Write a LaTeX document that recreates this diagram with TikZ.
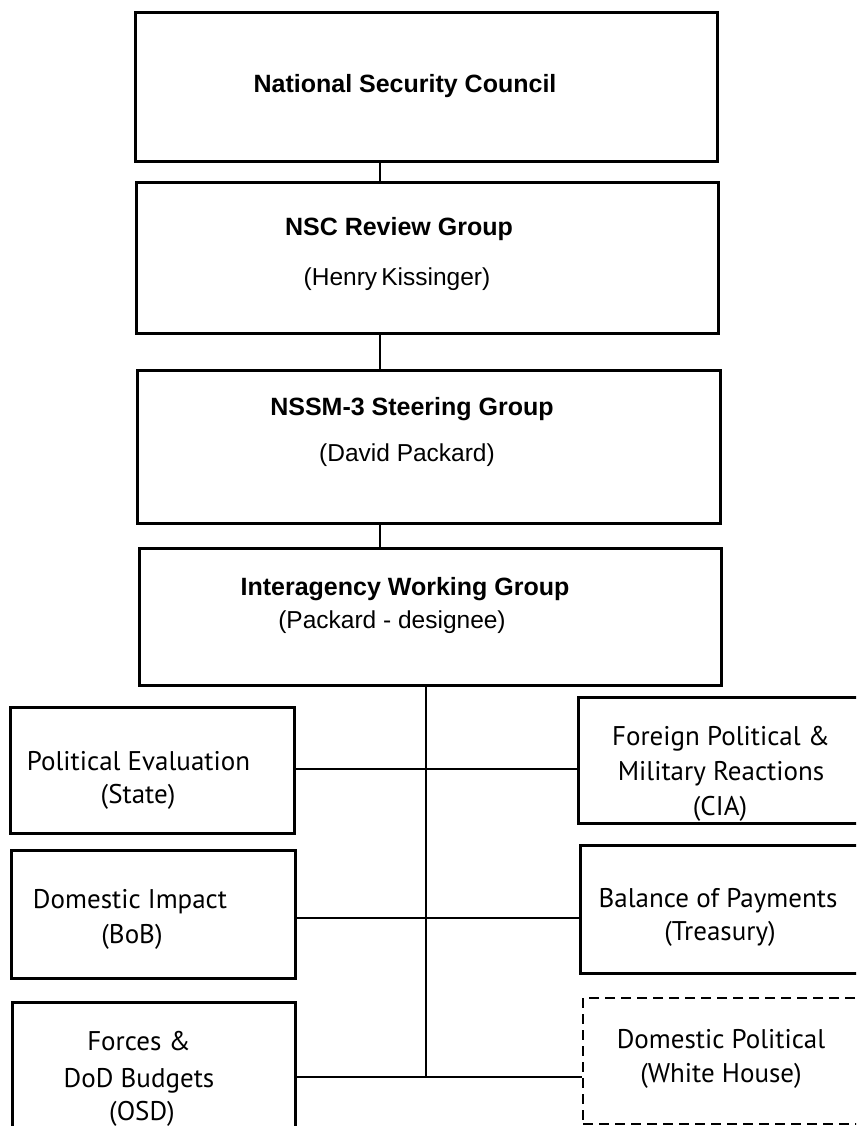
\documentclass[tikz,border=0pt]{standalone}
\usepackage{fontspec}
\setmainfont{Liberation Sans}
\newfontfamily\hum{PT Sans}
\begin{document}
\begin{tikzpicture}[x=1pt,y=-1pt,
  box/.style={draw=black,line width=3pt,rectangle,inner sep=0pt},
  dbox/.style={draw=black,line width=1.8pt,rectangle,inner sep=0pt,dash pattern=on 10pt off 6pt},
  conn/.style={draw=black,line width=2pt},
  ttl/.style={anchor=base,inner sep=0pt,font=\fontsize{25}{30}\selectfont\bfseries},
  sub/.style={anchor=base,inner sep=0pt,font=\fontsize{24.5}{30}\selectfont},
  lbl/.style={anchor=base,inner sep=0pt,font=\hum\fontsize{27}{32}\selectfont}]
\clip (0,0) rectangle (856,1126);
\useasboundingbox (0,0) rectangle (856,1126);
% top boxes
\node[box,minimum width=582pt,minimum height=149pt] (nsc) at (426,87.5) {};
\node[box,minimum width=582pt,minimum height=150pt] (rev) at (427,258) {};
\node[box,minimum width=583pt,minimum height=153pt] (ste) at (428.5,446.5) {};
\node[box,minimum width=582pt,minimum height=137pt] (iwg) at (430,616.5) {};
% texts
\node[ttl] (nscT) at (405,93) {National Security Council};
\node[ttl] (revT) at (399,235) {NSC Review Group};
\node[sub] (revS) at (397,285) {(Henry\,Kissinger)};
\node[ttl] (steT) at (412,415) {NSSM-3 Steering Group};
\node[sub] (steS) at (407,461) {(David Packard)};
\node[ttl] (iwgT) at (405,595) {Interagency Working Group};
\node[sub] (iwgS) at (392,628) {(Packard - designee)};
% bottom boxes
\node[box,minimum width=284pt,minimum height=126pt] (pol) at (152,770) {};
\node[box,minimum width=284pt,minimum height=128pt] (dom) at (153,914) {};
\node[box,minimum width=283pt,minimum height=138pt] (frc) at (153.5,1071) {};
\node[box,minimum width=302pt,minimum height=126pt] (frn) at (729,760) {};
\node[box,minimum width=300pt,minimum height=128pt] (bal) at (730,909) {};
\node[dbox,minimum width=297pt,minimum height=126pt] (dwh) at (731.5,1061) {};
% bottom texts
\node[lbl] (polA) at (138.5,770) {Political Evaluation};
\node[lbl] (polB) at (138,803) {(State)};
\node[lbl] (domA) at (130,908) {Domestic Impact};
\node[lbl] (domB) at (132,943) {(BoB)};
\node[lbl] (frcA) at (139,1050) {Forces \&};
\node[lbl] (frcB) at (139,1087) {DoD Budgets};
\node[lbl] (frcC) at (142,1120) {(OSD)};
\node[lbl] (frnA) at (721,745) {Foreign Political \&};
\node[lbl] (frnB) at (721,780) {Military Reactions};
\node[lbl] (frnC) at (720,815) {(CIA)};
\node[lbl] (balA) at (718,907) {Balance of Payments};
\node[lbl] (balB) at (720,940) {(Treasury)};
\node[lbl] (dwhA) at (721,1048) {Domestic Political};
\node[lbl] (dwhB) at (721,1082) {(White House)};
% connectors
\coordinate (cx) at (380,0);
\coordinate (t) at (426,0);
\coordinate (r1) at (0,769);
\coordinate (r2) at (0,918);
\coordinate (r3) at (0,1077);
\draw[conn] (nsc.south -| cx) -- (rev.north -| cx);
\draw[conn] (rev.south -| cx) -- (ste.north -| cx);
\draw[conn] (ste.south -| cx) -- (iwg.north -| cx);
\draw[conn] (iwg.south -| t) -- (t |- r3);
\draw[conn] (pol.east |- r1) -- (frn.west |- r1);
\draw[conn] (dom.east |- r2) -- (bal.west |- r2);
\draw[conn] (frc.east |- r3) -- (dwh.west |- r3);
\end{tikzpicture}
\end{document}
